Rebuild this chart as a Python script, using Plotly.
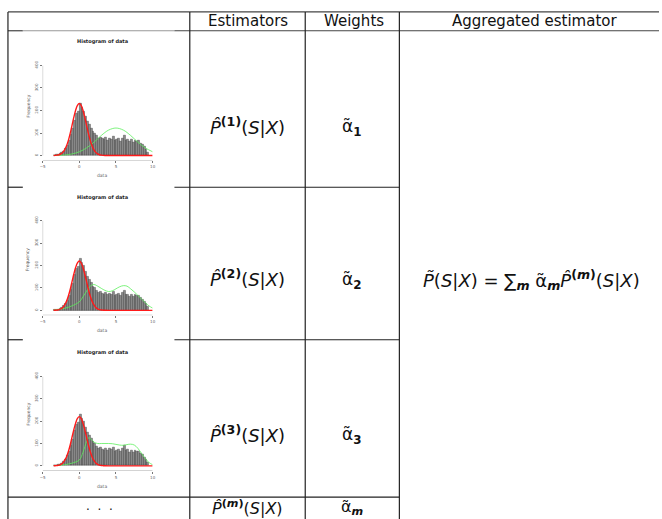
import numpy as np
import plotly.graph_objects as go

W, H = 662, 519

# ---------------- data ----------------
bin_start = -3.5
bin_width = 0.25
hist_counts = [2, 3, 5, 8, 13, 20, 30, 45, 65, 92, 120, 158, 185, 195, 230, 212,
               198, 172, 150, 138, 122, 108, 100, 88, 78, 82, 74, 70, 80, 68, 76, 72,
               84, 66, 70, 74, 64, 78, 90, 68, 72, 62, 70, 60, 68, 64, 66, 56,
               50, 40, 28, 15]

red_x = [-3.5, -3.25, -3, -2.75, -2.5, -2.25, -2, -1.75, -1.5, -1.25, -1, -0.75, -0.5, -0.25,
         0, 0.25, 0.5, 0.75, 1, 1.25, 1.5, 1.75, 2, 2.25, 2.5, 2.75, 3, 3.25, 3.5,
         4, 5, 6, 7, 8, 9, 10]
red_y1 = [0.3, 0.7, 1.6, 3.5, 7, 14, 25, 42, 66, 97, 133, 169, 201, 223,
          231, 223, 201, 169, 133, 97, 66, 42, 25, 14, 7, 3.5, 1.6, 0.7, 0.3,
          0, 0, 0, 0, 0, 0, 0]
red_y2 = [0.3, 0.7, 1.5, 3.3, 7, 13, 24, 40, 63, 92, 127, 161, 191, 212,
          220, 212, 191, 161, 127, 92, 63, 40, 24, 13, 7, 3.3, 1.5, 0.7, 0.3,
          0, 0, 0, 0, 0, 0, 0]
red_y3 = red_y2

green_x1 = [-3.5, -3, -2, -1, 0, 1, 2, 3, 4, 5, 6, 7, 8, 9, 10]
green_y1 = [0.4, 0.7, 2.4, 6.9, 16.5, 34, 59, 89, 113, 122, 113, 89, 59, 34, 16.5]

green_x2 = [-3.5, -3, -2, -1, 0, 0.5, 1, 1.5, 2, 2.5, 3, 3.5, 4, 4.5, 5, 5.5, 6, 6.5,
            7, 7.5, 8, 8.5, 9, 9.5, 10]
green_y2 = [2, 4, 9, 20, 38, 60, 86, 108, 115, 108, 98, 89, 84, 87, 96, 105, 110, 108,
            96, 82, 66, 50, 34, 20, 10]

green_x3 = [-3.5, -3, -2, -1, 0, 0.5, 1, 1.25, 1.5, 2, 2.5, 3, 3.5, 4, 4.5, 5, 5.5, 6,
            6.5, 7, 7.5, 8, 8.5, 9, 9.5, 10]
green_y3 = [1, 2, 5, 12, 26, 60, 110, 125, 122, 106, 100, 100, 100, 100, 99, 96, 93, 92,
            95, 97, 93, 78, 55, 32, 15, 5]

x_ticks = [-5, 0, 5, 10]
y_ticks = [0, 100, 200, 300, 400]

headers = ["Estimators", "Weights", "Aggregated estimator"]
row_indices = ["1", "2", "3"]

# ---------------- helpers ----------------
def X(px):
    return px / W

def Y(py):
    return 1 - py / H

fig = go.Figure()

bin_centers = bin_start + bin_width * (np.arange(len(hist_counts)) + 0.5)

rows = [
    dict(top=61, zero=152, red=red_y1, gx=green_x1, gy=green_y1, title=37, ylab=102, xlab=172),
    dict(top=217.7, zero=308.3, red=red_y2, gx=green_x2, gy=green_y2, title=194, ylab=257, xlab=329),
    dict(top=375, zero=465.3, red=red_y3, gx=green_x3, gy=green_y3, title=351, ylab=413, xlab=486),
]

shapes = []
annotations = []
line_col = "#222222"


def note(text, px, py, size, color="#111", angle=0):
    annotations.append(dict(text=text, x=X(px), y=Y(py), xref="paper", yref="paper",
                            xanchor="center", yanchor="middle", showarrow=False,
                            textangle=angle, font=dict(size=size, color=color)))


for i, r in enumerate(rows, start=1):
    xa = "x" if i == 1 else f"x{i}"
    ya = "y" if i == 1 else f"y{i}"
    fig.add_trace(go.Bar(x=bin_centers, y=hist_counts, width=bin_width,
                         marker=dict(color="#8e8e8e", line=dict(color="#2a2a2a", width=0.4)),
                         xaxis=xa, yaxis=ya, showlegend=False, hoverinfo="skip"))
    fig.add_trace(go.Scatter(x=r["gx"], y=r["gy"], mode="lines", line_shape="spline",
                             line=dict(color="#5cf05c", width=0.8),
                             xaxis=xa, yaxis=ya, showlegend=False, hoverinfo="skip"))
    fig.add_trace(go.Scatter(x=red_x, y=r["red"], mode="lines", line_shape="spline",
                             line=dict(color="#ff1a1a", width=1.4),
                             xaxis=xa, yaxis=ya, showlegend=False, hoverinfo="skip"))
    bottom = r["zero"] + 5
    axis_common = dict(showgrid=False, zeroline=False, showline=False, ticks="outside",
                       ticklen=2, tickwidth=0.5, tickcolor="#777", fixedrange=True)
    fig.layout[("xaxis" if i == 1 else f"xaxis{i}")] = dict(
        domain=[X(40), X(151)], anchor=ya, range=[-5, 10], tickvals=x_ticks,
        tickfont=dict(size=4, color="#666"), **axis_common)
    fig.layout[("yaxis" if i == 1 else f"yaxis{i}")] = dict(
        domain=[Y(bottom), Y(r["top"])], anchor=xa, range=[-22, 400], tickvals=y_ticks,
        tickangle=-90, tickfont=dict(size=4, color="#666"), **axis_common)
    # R-style detached axis lines
    shapes.append(dict(type="line", xref=xa, yref=ya, x0=-5, x1=10, y0=-22, y1=-22,
                       line=dict(color="#777", width=0.6)))
    shapes.append(dict(type="line", xref=xa, yref=ya, x0=-5, x1=-5, y0=0, y1=400,
                       line=dict(color="#777", width=0.6)))
    note("<b>Histogram of data</b>", 100, r["title"], 5, "#222")
    note("Frequency", 25, r["ylab"], 4.5, "#666", -90)
    note("data", 100, r["xlab"], 4.5, "#666")

# ---------------- table lines ----------------
def hline(x0, x1, y, col=line_col, w=1.2):
    shapes.append(dict(type="line", xref="paper", yref="paper", x0=X(x0), x1=X(x1),
                       y0=Y(y), y1=Y(y), line=dict(color=col, width=w)))

def vline(x, y0, y1, col=line_col, w=1.2):
    shapes.append(dict(type="line", xref="paper", yref="paper", x0=X(x), x1=X(x),
                       y0=Y(y0), y1=Y(y1), line=dict(color=col, width=w)))

hline(5, 662, 7, "#444")
hline(5, 20, 26, "#444")
hline(20, 173, 26, "#999")
hline(173, 662, 26, "#444")
for yy in [184, 338]:
    hline(5, 20, yy)
    hline(173, 400, yy)
hline(5, 400, 497)
for xx in [5, 188.5, 305, 400]:
    vline(xx, 7, 519)

# ---------------- table text ----------------
header_x = [247, 354, 536]
for t, hx in zip(headers, header_x):
    note(t, hx, 16.5, 15)

row_y = [122, 276, 433]
for idx, ry in zip(row_indices, row_y):
    note(f"<i>P\u0302</i><sup><b>({idx})</b></sup>(<i>S</i>|<i>X</i>)", 247, ry, 18)
    note(f"\u03b1\u0303<sub><b>{idx}</b></sub>", 352, ry + 2, 17)

note("<i>P\u0303</i>(<i>S</i>|<i>X</i>) = \u2211<sub><b><i>m</i></b></sub> "
     "\u03b1\u0303<sub><b><i>m</i></b></sub><i>P\u0302</i><sup><b>(<i>m</i>)</b></sup>(<i>S</i>|<i>X</i>)",
     533, 278, 18)

note("\u00b7  \u00b7  \u00b7", 97, 510, 12)
note("<i>P\u0302</i><sup><b>(<i>m</i>)</b></sup>(<i>S</i>|<i>X</i>)", 247, 507, 16)
note("\u03b1\u0303<sub><b><i>m</i></b></sub>", 352, 507, 16)

fig.update_layout(
    width=W, height=H, margin=dict(l=0, r=0, t=0, b=0),
    paper_bgcolor="white", plot_bgcolor="white",
    font=dict(family="DejaVu Sans"),
    bargap=0, shapes=shapes, annotations=annotations, showlegend=False,
)

fig.write_html("out.html", config={"displayModeBar": False},
               post_script="document.body.style.margin='0';document.body.style.overflow='hidden';")
